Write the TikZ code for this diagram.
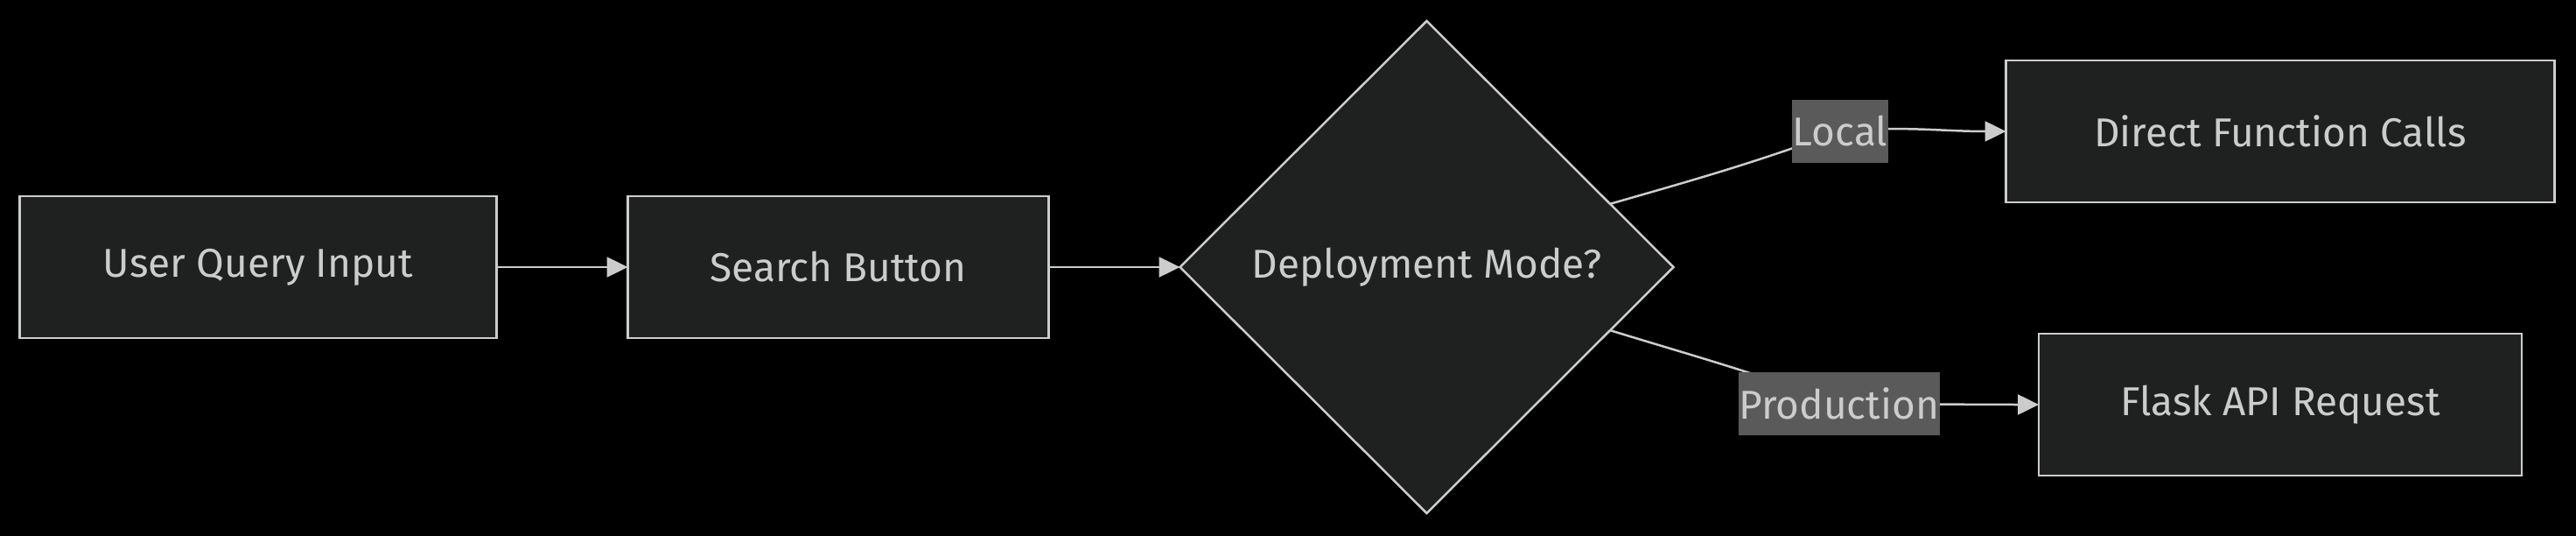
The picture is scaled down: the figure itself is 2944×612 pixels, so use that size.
\documentclass[tikz,border=0pt]{standalone}
\usepackage{fontspec}
\setmainfont{Fira Sans}
\usepackage{xcolor}
\usepackage{tikz}
\usetikzlibrary{shapes.geometric, arrows.meta, positioning}
\definecolor{nodefill}{HTML}{1F2020}
\definecolor{linegray}{HTML}{CCCCCC}
\definecolor{labelfill}{HTML}{5A5A5A}

\begin{document}
\begin{tikzpicture}[
  x=1pt, y=-1pt,
  node distance=150pt,
  box/.style={rectangle, draw=linegray, fill=nodefill, line width=2.5pt, outer sep=0pt, minimum height=162pt, text=linegray, font=\fontsize{46}{55}\selectfont},
  decision/.style={diamond, draw=linegray, fill=nodefill, line width=2.5pt, outer sep=0pt, minimum width=564pt, minimum height=562pt, inner sep=0pt, text=linegray, font=\fontsize{46}{55}\selectfont},
  elabel/.style={rectangle, fill=labelfill, text=linegray, inner xsep=1pt, minimum height=72pt, font=\fontsize{46}{55}\selectfont},
  arrow/.style={-{Triangle[length=24pt, width=23pt]}, line width=2.5pt, draw=linegray},
]
\fill[black] (0,0) rectangle (2944,612);
\useasboundingbox (0,0) rectangle (2944,612);

% Eingabe
\node[box, minimum width=545pt] (uqi) at (295,305) {User Query Input};
\node[box, minimum width=481pt, right=of uqi] (sb) {Search Button};
\node[decision, right=of sb] (dm) {Deployment Mode?};

% Ziele
\node[box, minimum width=627pt] (dfc) at (2606,150) {Direct Function Calls};
\node[box, minimum width=552pt] (far) at (2606,462) {Flask API Request};

% Kantenpunkte
\coordinate (lclpt) at (2103,150);
\coordinate (prdpt) at (2102,461);

% Pfeile
\draw[arrow] (uqi) -- (sb);
\draw[arrow] (sb) -- (dm);
\draw[arrow] (dm.19) to[out=16, in=200] (lclpt) node[elabel] (lcl) {Local} to[out=5, in=180] (dfc.west);
\draw[arrow] (dm.-19) to[out=-17, in=160] (prdpt) node[elabel] (prd) {Production} to[out=0, in=180] (far.west);

\end{tikzpicture}
\end{document}
